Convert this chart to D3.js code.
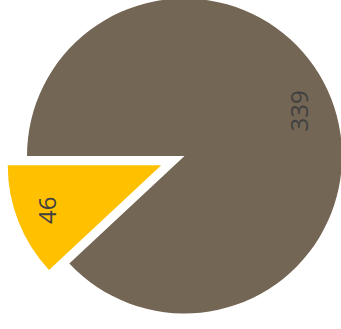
<!DOCTYPE html>
<html>
<head>
<meta charset="utf-8">
<script src="https://cdn.jsdelivr.net/npm/d3@7"></script>
<style>
    body { margin: 0; background: #fff; }
    svg { display: block; }
</style>
</head>
<body>
<script>
//slice values and their colours
var labels = ["A", "B"];
var values = [339, 46];
var colors = ["#736654", "#ffc000"];
var exploded = [false, true];

window.onload = drawPie();

function drawPie() {

    //frame dimensions
    var width = 341,
        height = 329;

    var cx = 184.5,
        cy = 156,
        radius = 157.5,
        explodeRadius = 153.5,
        explodeOffset = 25,
        labelRadius = 123;

    var svg = d3.select("body")
        .append("svg")
        .attr("width", width)
        .attr("height", height);

    var g = svg.append("g")
        .attr("transform", "translate(" + cx + "," + cy + ")");

    //pie starts at 9 o'clock and runs clockwise
    var pie = d3.pie()
        .sort(null)
        .startAngle(-Math.PI / 2)
        .endAngle(Math.PI * 1.5)
        .value(function(d){ return d; });

    var arcs = pie(values);

    var slices = g.selectAll(".slice")
        .data(arcs)
        .enter()
        .append("g")
        .attr("class", "slice")
        .attr("transform", function(d, i){
            if (!exploded[i]) return null;
            var a = (d.startAngle + d.endAngle) / 2;
            return "translate(" + (Math.sin(a) * explodeOffset) + "," + (-Math.cos(a) * explodeOffset) + ")";
        });

    slices.append("path")
        .attr("d", function(d, i){
            return d3.arc()
                .innerRadius(0)
                .outerRadius(exploded[i] ? explodeRadius : radius)(d);
        })
        .attr("fill", function(d, i){ return colors[i]; });

    //value labels, turned to read upward
    var labelArc = d3.arc()
        .innerRadius(labelRadius)
        .outerRadius(labelRadius);

    slices.append("text")
        .attr("transform", function(d){
            var c = labelArc.centroid(d);
            return "translate(" + c[0] + "," + c[1] + ") rotate(-90)";
        })
        .attr("text-anchor", "middle")
        .attr("dominant-baseline", "central")
        .style("font-family", "'Open Sans', sans-serif")
        .style("font-size", "24px")
        .style("fill", "#404040")
        .text(function(d){ return d.data; });
}
</script>
</body>
</html>
